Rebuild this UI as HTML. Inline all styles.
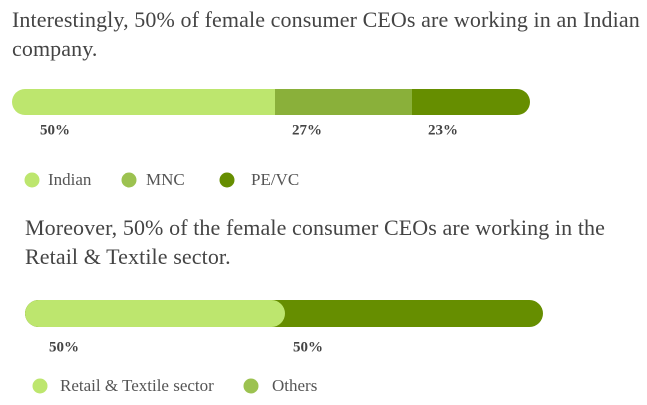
<!DOCTYPE html>
<html><head><style>
body{margin:0;width:647px;height:405px;background:#fff;position:relative;overflow:hidden;font-family:"Liberation Serif",serif;color:#444}
.t{position:absolute;font-size:22px;line-height:29px;left:12px;margin:0;white-space:nowrap;letter-spacing:0.1px}
.a{position:absolute}
.lab{position:absolute;font-size:15px;font-weight:bold;color:#444;transform:translateY(-50%)}
.dot{position:absolute;width:15px;height:15px;border-radius:50%;transform:translate(-50%,-50%)}
.lt{position:absolute;font-size:17px;color:#555;transform:translateY(-50%);white-space:nowrap}
</style></head><body>
<div class="t" style="top:5px;">Interestingly, 50% of female consumer CEOs are working in an Indian<br>company.</div>
<div class="a" style="left:12px;top:89px;width:518px;height:26px;border-radius:13px;overflow:hidden;display:flex">
<div style="width:263px;background:#bde66e"></div><div style="width:137px;background:#8ab03a"></div><div style="flex:1;background:#668e00"></div></div>
<div class="lab" style="left:40px;top:131px">50%</div>
<div class="lab" style="left:292px;top:131px">27%</div>
<div class="lab" style="left:428px;top:131px">23%</div>
<div class="dot" style="left:32px;top:180px;background:#bde66e"></div><div class="lt" style="left:48px;top:180px">Indian</div>
<div class="dot" style="left:129px;top:180px;background:#9cc250"></div><div class="lt" style="left:146px;top:180px">MNC</div>
<div class="dot" style="left:227px;top:180px;background:#668e00"></div><div class="lt" style="left:251px;top:180px">PE/VC</div>
<div class="t" style="top:213px;left:25px">Moreover, 50% of the female consumer CEOs are working in the<br>Retail &amp; Textile sector.</div>
<div class="a" style="left:25px;top:300px;width:518px;height:27px;border-radius:13.5px;background:#668e00;overflow:hidden">
<div style="width:260px;height:27px;border-radius:13.5px;background:#bde66e"></div></div>
<div class="lab" style="left:49px;top:348px">50%</div>
<div class="lab" style="left:293px;top:348px">50%</div>
<div class="dot" style="left:40px;top:386px;background:#bde66e"></div><div class="lt" style="left:60px;top:386px">Retail &amp; Textile sector</div>
<div class="dot" style="left:251px;top:386px;background:#9cc250"></div><div class="lt" style="left:272px;top:386px">Others</div>
</body></html>
